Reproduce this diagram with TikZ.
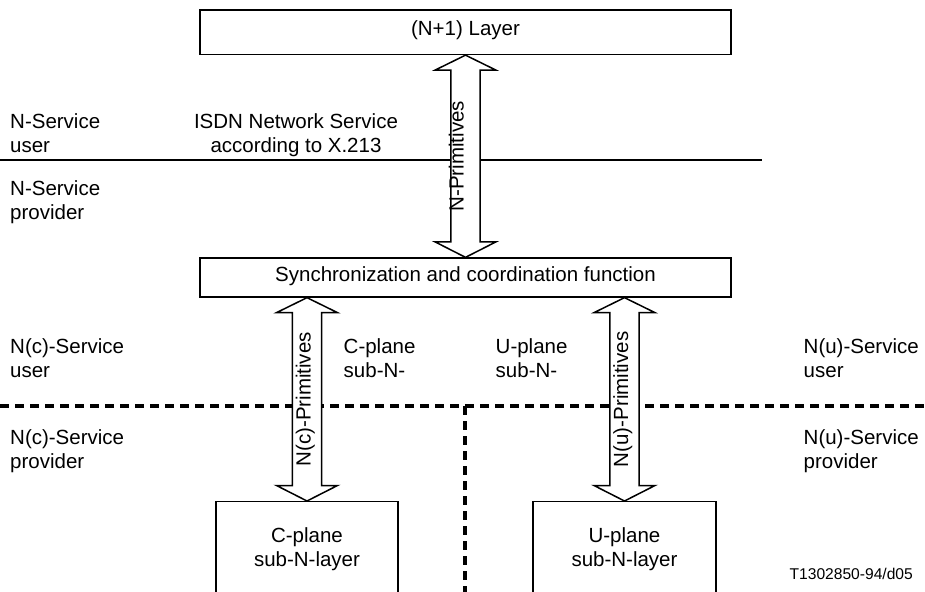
\documentclass[tikz,border=0pt]{standalone}
\usepackage{fontspec}
\setmainfont{Liberation Sans}
\usetikzlibrary{calc}
\newcommand\lbfont{\fontsize{20.5}{24}\selectfont}
\newcommand\smfont{\fontsize{15.6}{18}\selectfont}
% #1 upper tip, #2 lower tip, #3 label node name, #4 label, #5 label options
\newcommand\dblarrow[5]{%
  \draw[arrbody] let \p1=(#1), \p2=(#2) in
    (\x1,\y1) -- ({\x1+30.5pt},{\y1-15pt}) -- ({\x1+14.7pt},{\y1-15pt})
    -- ({\x1+14.7pt},{\y2+15.5pt}) -- ({\x1+30.5pt},{\y2+15.5pt}) -- (\x1,\y2)
    -- ({\x1-30.5pt},{\y2+15.5pt}) -- ({\x1-14.7pt},{\y2+15.5pt})
    -- ({\x1-14.7pt},{\y1-15pt}) -- ({\x1-30.5pt},{\y1-15pt}) -- cycle
    ({\x1},{(\y1+\y2)/2}) node[arrlabel,#5] (#3) {#4};
}
\begin{document}
\begin{tikzpicture}[x=1pt,y=-1pt,
  box/.style={draw, line width=1.3pt, minimum width=531pt, inner sep=0pt,
    font=\lbfont, text height=0.716em, text depth=0pt},
  subbox/.style={draw, line width=1.3pt, anchor=north, inner sep=0pt, minimum height=92pt},
  lbl/.style={font=\lbfont, align=left, inner sep=0pt, anchor=north west},
  clbl/.style={font=\lbfont, align=center, inner sep=0pt, anchor=north},
  arrbody/.style={draw, fill=white, line width=1.5pt, line join=miter},
  arrlabel/.style={rotate=90, font=\lbfont, inner sep=0pt, text height=0.716em, text depth=0pt},
  solidline/.style={line width=2pt},
  dashline/.style={line width=3.2pt, dash pattern=on 9pt off 6pt}]
\fill[white] (0,0) rectangle (925,591);
\useasboundingbox (0,0) rectangle (925,591);

% boxes
\node[box, minimum height=44.5pt] (top) at (465.5,32.25) {(N+1) Layer};
\node[box, minimum height=39pt] (sync) at (465.5,277.5) {Synchronization and coordination function};
\node[subbox, minimum width=182pt] (cbox) at (307,501) {};
\node[subbox, minimum width=183pt] (ubox) at (624.5,501) {};
\node[clbl] (ctext) at (307,525.2) {\strut C-plane\\\strut sub-N-layer};
\node[clbl] (utext) at (624.5,525.2) {\strut U-plane\\\strut sub-N-layer};

% separator lines
\coordinate (sl) at (0,160);
\coordinate (sr) at (762,160);
\draw[solidline] (sl) -- (sr);
\coordinate (dl) at (0,406);
\coordinate (dr) at (925,406);
\draw[dashline] (dl) -- (dr);
\coordinate (dv1) at (465,406);
\coordinate (dv2) at (465,595);
\draw[dashline] (dv1) -- (dv2);

% double arrows
\dblarrow{top.south}{sync.north}{nprim}{N-Primitives}{yshift=5.5pt}
\dblarrow{cbox.north |- sync.south}{cbox.north}{ncprim}{N(c)-Primitives}{}
\dblarrow{ubox.north |- sync.south}{ubox.north}{nuprim}{N(u)-Primitives}{}

% labels
\node[lbl] (nsu) at (10,111.2) {\strut N-Service\\\strut user};
\node[clbl] (isdn) at (296,111.2) {\strut ISDN Network Service\\\strut according to X.213};
\node[lbl] (nsp) at (10,178.2) {\strut N-Service\\\strut provider};
\node[lbl] (ncu) at (10,336.2) {\strut N(c)-Service\\\strut user};
\node[lbl] (cpl) at (343.5,336.2) {\strut C-plane\\\strut sub-N-};
\node[lbl] (upl) at (495.5,336.2) {\strut U-plane\\\strut sub-N-};
\node[lbl] (nuu) at (803.5,336.2) {\strut N(u)-Service\\\strut user};
\node[lbl] (ncp) at (10,427.2) {\strut N(c)-Service\\\strut provider};
\node[lbl] (nup) at (803.5,427.2) {\strut N(u)-Service\\\strut provider};
\node[font=\smfont, inner sep=0pt, anchor=base east] (ref) at (913,579) {T1302850-94/d05};
\end{tikzpicture}
\end{document}
